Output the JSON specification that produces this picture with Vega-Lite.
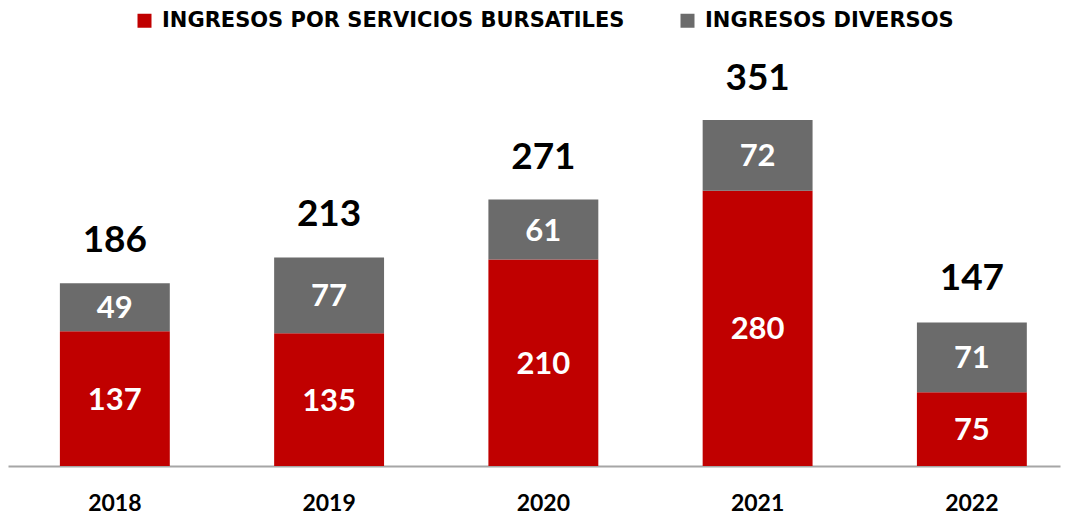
{
  "$schema": "https://vega.github.io/schema/vega-lite/v6.json",
  "autosize": "none",
  "width": 1052,
  "height": 405,
  "padding": {"left": 8, "top": 61, "right": 5, "bottom": 50},
  "background": "white",
  "config": {"view": {"stroke": null}, "font": "Lato"},
  "datasets": {
    "parts": [
      {"year": "2018", "serie": "INGRESOS POR SERVICIOS BURSATILES", "ord": 1, "value": 137},
      {"year": "2018", "serie": "INGRESOS DIVERSOS", "ord": 2, "value": 49},
      {"year": "2019", "serie": "INGRESOS POR SERVICIOS BURSATILES", "ord": 1, "value": 135},
      {"year": "2019", "serie": "INGRESOS DIVERSOS", "ord": 2, "value": 77},
      {"year": "2020", "serie": "INGRESOS POR SERVICIOS BURSATILES", "ord": 1, "value": 210},
      {"year": "2020", "serie": "INGRESOS DIVERSOS", "ord": 2, "value": 61},
      {"year": "2021", "serie": "INGRESOS POR SERVICIOS BURSATILES", "ord": 1, "value": 280},
      {"year": "2021", "serie": "INGRESOS DIVERSOS", "ord": 2, "value": 72},
      {"year": "2022", "serie": "INGRESOS POR SERVICIOS BURSATILES", "ord": 1, "value": 75},
      {"year": "2022", "serie": "INGRESOS DIVERSOS", "ord": 2, "value": 71}
    ],
    "totals": [
      {"year": "2018", "total": 186},
      {"year": "2019", "total": 213},
      {"year": "2020", "total": 271},
      {"year": "2021", "total": 351},
      {"year": "2022", "total": 147}
    ]
  },
  "data": {"name": "parts"},
  "encoding": {
    "x": {"field": "year", "type": "nominal", "title": null,
      "scale": {"paddingInner": 0.487, "paddingOuter": 0.1985, "align": 0.61},
      "axis": {"domainColor": "#A6A6A6", "domainWidth": 2, "ticks": false, "labelAngle": 0,
        "labelFont": "Lato", "labelFontWeight": "bold", "labelFontSize": 23, "labelColor": "#000000", "labelPadding": 26}}
  },
  "layer": [
    {
      "mark": {"type": "bar"},
      "encoding": {
        "y": {"field": "value", "type": "quantitative", "stack": "zero", "scale": {"domain": [0, 412]}, "axis": null},
        "order": {"field": "ord", "type": "quantitative"},
        "color": {"field": "serie", "type": "nominal", "title": null,
          "scale": {"domain": ["INGRESOS POR SERVICIOS BURSATILES", "INGRESOS DIVERSOS"], "range": ["#C00000", "#6B6B6B"]},
          "legend": {"orient": "none", "legendX": 126, "legendY": -51, "direction": "horizontal",
            "symbolType": "square", "symbolSize": 196, "symbolStrokeWidth": 0, "symbolOpacity": 1,
            "labelFont": "DejaVu Sans", "labelFontWeight": "bold", "labelFontSize": 21, "labelColor": "#000000",
            "labelLimit": 800, "labelOffset": 7, "columnPadding": 52}}
      }
    },
    {
      "transform": [
        {"stack": "value", "groupby": ["year"], "sort": [{"field": "ord"}], "as": ["v0", "v1"]},
        {"calculate": "(datum.v0 + datum.v1) / 2", "as": "mid"}
      ],
      "mark": {"type": "text", "color": "white", "fontWeight": "bold", "fontSize": 31, "baseline": "middle", "dy": 2},
      "encoding": {
        "y": {"field": "mid", "type": "quantitative", "scale": {"domain": [0, 412]}},
        "text": {"field": "value", "type": "quantitative"}
      }
    },
    {
      "data": {"name": "totals"},
      "mark": {"type": "text", "color": "black", "fontWeight": "bold", "fontSize": 37, "baseline": "alphabetic", "dy": -31},
      "encoding": {
        "y": {"field": "total", "type": "quantitative", "scale": {"domain": [0, 412]}},
        "text": {"field": "total", "type": "quantitative"}
      }
    }
  ]
}
